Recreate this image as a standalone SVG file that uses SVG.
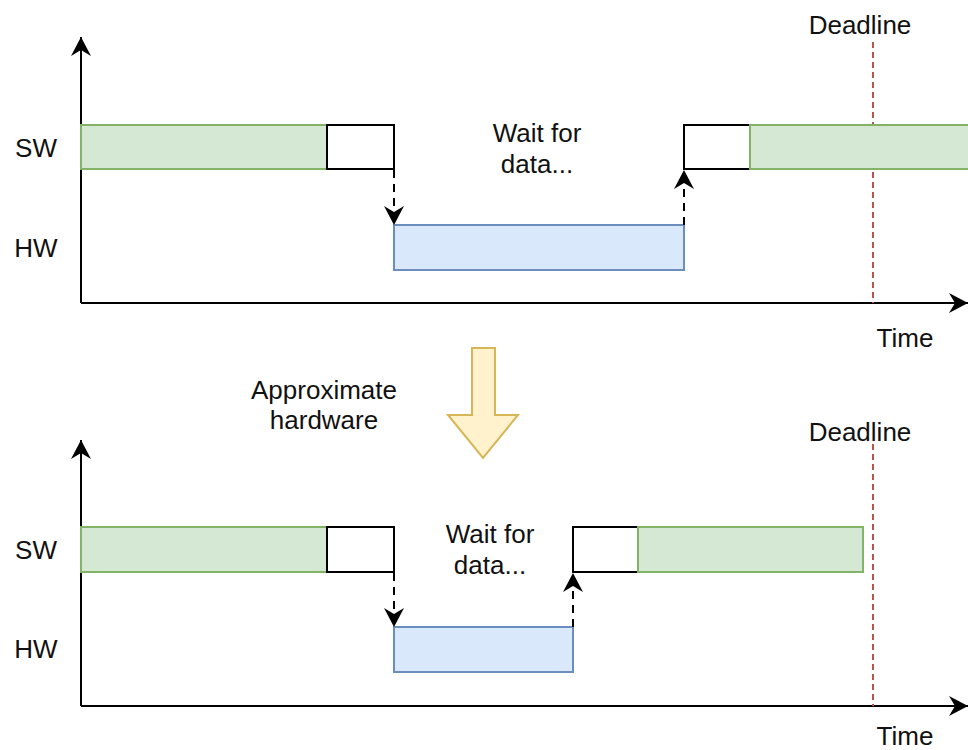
<svg xmlns="http://www.w3.org/2000/svg" width="968" height="750" viewBox="0 0 968 750">
  <style>
    text { font-family: "Liberation Sans", Arial, Helvetica, sans-serif; font-size: 26px; fill: #111111; text-anchor: middle; }
    .axis { fill: none; stroke: #000000; stroke-width: 2; }
    .sw { fill: #d5e8d4; stroke: #82b366; stroke-width: 2; }
    .hw { fill: #dae8fc; stroke: #6c8ebf; stroke-width: 2; }
    .task { fill: #ffffff; stroke: #000000; stroke-width: 2; }
    .call { fill: none; stroke: #000000; stroke-width: 2; stroke-dasharray: 8 6; }
    .deadline { fill: none; stroke: #b85450; stroke-width: 2; stroke-dasharray: 6 4; }
    .bigarrow { fill: #fff2cc; stroke: #d6b656; stroke-width: 2; }
  </style>
  <defs>
    <marker id="arrow" markerUnits="userSpaceOnUse" markerWidth="20" markerHeight="20" refX="19" refY="10" orient="auto" viewBox="0 0 20 20">
      <path d="M0,0 L19,10 L0,20 L6,10 z" fill="#000000"/>
    </marker>
    <marker id="head" markerUnits="userSpaceOnUse" markerWidth="20" markerHeight="20" refX="19" refY="10" orient="auto" viewBox="0 0 20 20">
      <path d="M0,0 L19,10 L0,20 L6,10 z" fill="#000000"/>
    </marker>
  </defs>

  <!-- upper timeline: original hardware -->
  <g id="axes-top">
    <path class="axis" d="M81,303 L81,37" marker-end="url(#arrow)"/>
    <path class="axis" d="M81,303 L968,303" marker-end="url(#arrow)"/>
  </g>
  <g id="deadline-top">
    <path class="deadline" d="M873,42 L873,303"/>
    <text x="860" y="34">Deadline</text>
  </g>
  <g id="label-sw-top"><text x="36" y="157">SW</text></g>
  <g id="label-hw-top"><text x="36" y="257">HW</text></g>
  <g id="label-time-top"><text x="905" y="347">Time</text></g>
  <g id="sw-run-1-top"><rect class="sw" x="81" y="125" width="246" height="44"/></g>
  <g id="sw-call-top"><rect class="task" x="327" y="125" width="67" height="44"/></g>
  <g id="hw-run-top"><rect class="hw" x="394" y="225" width="290" height="45"/></g>
  <g id="sw-return-top"><rect class="task" x="684" y="125" width="66" height="44"/></g>
  <g id="sw-run-2-top"><rect class="sw" x="750" y="125" width="222" height="44"/></g>
  <g id="wait-top"><text x="537" y="142">Wait for</text><text x="537" y="173">data...</text></g>

  <!-- transition between the two timelines -->
  <g id="transition">
    <polygon class="bigarrow" points="472,348 495,348 495,415 518,415 483,458 448,415 472,415"/>
    <text x="324" y="399">Approximate</text>
    <text x="324" y="429">hardware</text>
  </g>

  <!-- lower timeline: approximate hardware -->
  <g id="axes-bottom">
    <path class="axis" d="M81,706 L81,440" marker-end="url(#arrow)"/>
    <path class="axis" d="M81,706 L968,706" marker-end="url(#arrow)"/>
  </g>
  <g id="deadline-bottom">
    <path class="deadline" d="M873,444 L873,706"/>
    <text x="860" y="441">Deadline</text>
  </g>
  <g id="label-sw-bottom"><text x="36" y="559">SW</text></g>
  <g id="label-hw-bottom"><text x="36" y="658">HW</text></g>
  <g id="label-time-bottom"><text x="905" y="745">Time</text></g>
  <g id="sw-run-1-bottom"><rect class="sw" x="81" y="527" width="246" height="45"/></g>
  <g id="sw-call-bottom"><rect class="task" x="327" y="527" width="67" height="45"/></g>
  <g id="hw-run-bottom"><rect class="hw" x="394" y="627" width="179" height="45"/></g>
  <g id="sw-return-bottom"><rect class="task" x="573" y="527" width="65" height="45"/></g>
  <g id="sw-run-2-bottom"><rect class="sw" x="638" y="527" width="225" height="45"/></g>
  <g id="wait-bottom"><text x="490" y="543">Wait for</text><text x="490" y="574">data...</text></g>

  <!-- software/hardware hand-offs -->
  <g id="connectors">
    <path class="call" d="M394,170 L394,225" marker-end="url(#head)"/>
    <path class="call" d="M684,225 L684,170" marker-end="url(#head)"/>
    <path class="call" d="M394,573 L394,627" marker-end="url(#head)"/>
    <path class="call" d="M573,627 L573,573" marker-end="url(#head)"/>
  </g>
</svg>
